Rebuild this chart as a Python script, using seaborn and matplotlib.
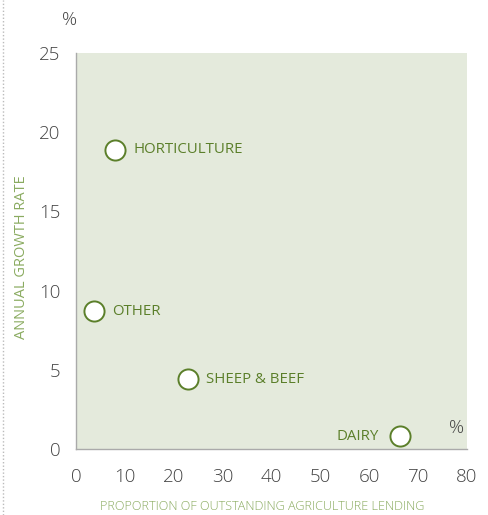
import matplotlib
matplotlib.use('Agg')
import seaborn as sns
import pandas as pd
from matplotlib import pyplot as plt
from matplotlib.lines import Line2D

sectors = ['HORTICULTURE', 'OTHER', 'SHEEP & BEEF', 'DAIRY']
lending_share = [8.0, 3.7, 22.9, 66.3]
growth_rate = [18.9, 8.7, 4.4, 0.8]
x_ticks = [0, 10, 20, 30, 40, 50, 60, 70, 80]
y_ticks = [0, 5, 10, 15, 20, 25]

df = pd.DataFrame({'sector': sectors, 'share': lending_share, 'growth': growth_rate})

sns.set_style('white')
plt.rcParams['font.family'] = ['Open Sans', 'DejaVu Sans']

green = '#5b7f2a'
light_green = '#8aab60'
grey = '#444444'

fig = plt.figure(figsize=(4.88, 5.15), dpi=100)
ax = fig.add_axes([76 / 488, 1 - 449 / 515, 391 / 488, 396 / 515])
ax.set_facecolor('#e4eadc')

sns.scatterplot(data=df, x='share', y='growth', ax=ax, s=210, color='white',
                edgecolor=green, linewidth=1.4, zorder=3, clip_on=False)

for _, r in df.iterrows():
    if r['sector'] == 'DAIRY':
        ax.annotate(r['sector'], (r['share'], r['growth']), xytext=(-15, 0),
                    textcoords='offset points', ha='right', va='center',
                    color=green, fontsize=10.8)
    else:
        ax.annotate(r['sector'], (r['share'], r['growth']), xytext=(13, 0),
                    textcoords='offset points', ha='left', va='center',
                    color=green, fontsize=10.8)

ax.set_xlim(0, 80)
ax.set_ylim(0, 25)
ax.set_xticks(x_ticks)
ax.set_yticks(y_ticks)
ax.tick_params(axis='both', direction='out', length=6, width=1, color='#aaaaaa',
               labelsize=13.5, labelcolor=grey)
ax.tick_params(axis='y', pad=5)
ax.tick_params(axis='x', pad=8)
for lab in ax.get_xticklabels() + ax.get_yticklabels():
    lab.set_fontweight('light')
for s in ['top', 'right']:
    ax.spines[s].set_visible(False)
for s in ['left', 'bottom']:
    ax.spines[s].set_color('#aaaaaa')
    ax.spines[s].set_linewidth(1)

ax.set_xlabel('PROPORTION OF OUTSTANDING AGRICULTURE LENDING', color=light_green,
              fontsize=9.1, labelpad=10, fontweight='light')
ax.xaxis.label.set_x((262 - 76) / 391)
ax.set_ylabel('ANNUAL GROWTH RATE', color=light_green, fontsize=10.5)
ax.yaxis.set_label_coords((29 - 76) / 391, (449 - 257) / 396)

fig.text(70 / 488, 1 - 20 / 515, '%', ha='center', va='center', color=grey,
         fontsize=13.5, fontweight='light')
fig.text(457 / 488, 1 - 428 / 515, '%', ha='center', va='center', color=grey,
         fontsize=13.5, fontweight='light')

fig.add_artist(Line2D([3 / 488, 3 / 488], [0, 1], color='#bbbbbb', linewidth=1,
                      linestyle=(0, (1, 1.5)), transform=fig.transFigure))

fig.savefig('out.png', dpi=100)
